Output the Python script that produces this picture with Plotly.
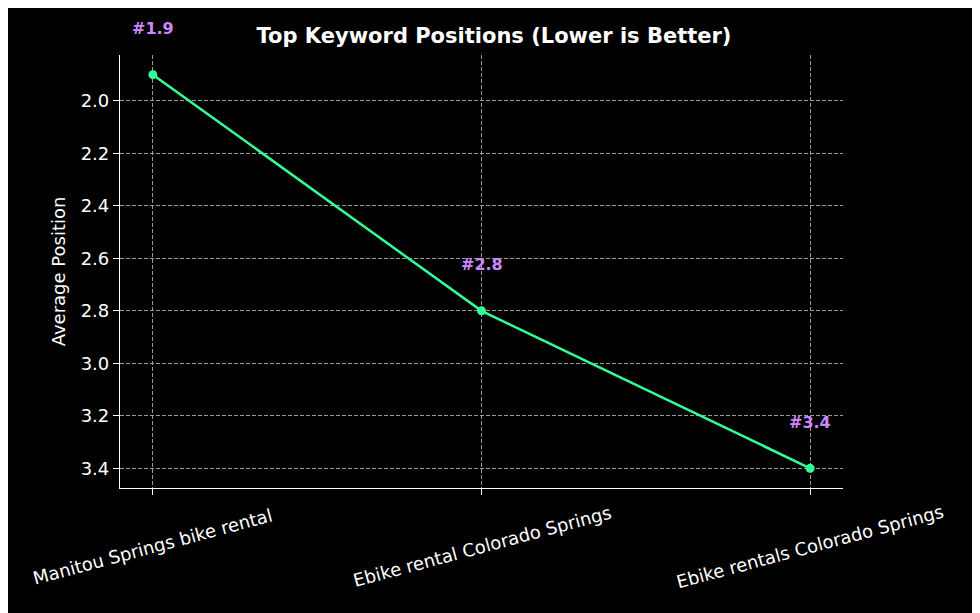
import plotly.graph_objects as go

keywords = ["Manitou Springs bike rental", "Ebike rental Colorado Springs", "Ebike rentals Colorado Springs"]
positions = [1.9, 2.8, 3.4]
y_ticks = [2.0, 2.2, 2.4, 2.6, 2.8, 3.0, 3.2, 3.4]

idx = list(range(len(keywords)))
font = "DejaVu Sans"

fig = go.Figure()
fig.add_trace(go.Scatter(
    x=idx, y=positions, mode="lines+markers",
    line=dict(color="#33ff99", width=2.5),
    marker=dict(color="#33ff99", size=9),
    hoverinfo="skip",
))

for i, (k, p) in enumerate(zip(keywords, positions)):
    fig.add_annotation(x=i, y=p, text=f"<b>#{p}</b>", showarrow=False, yshift=46,
                       font=dict(color="#cc88ff", size=16, family=font))
    fig.add_annotation(x=i, y=3.475, text=k, showarrow=False, textangle=-15,
                       yshift=-58, font=dict(color="white", size=18, family=font))

grid = dict(showgrid=True, gridcolor="#9a9a9a", griddash="4px,2px", gridwidth=0.8)
fig.update_xaxes(range=[-0.1, 2.1], tickvals=idx, showticklabels=False,
                 ticks="outside", ticklen=6, tickcolor="white",
                 showline=True, linecolor="white", linewidth=1.2, zeroline=False, **grid)
fig.update_yaxes(range=[3.475, 1.825], tickvals=y_ticks,
                 ticktext=[f"{v:.1f}" for v in y_ticks],
                 ticks="outside", ticklen=6, tickcolor="white",
                 tickfont=dict(color="white", size=18, family=font),
                 title=dict(text="Average Position", font=dict(color="white", size=18, family=font), standoff=10),
                 showline=True, linecolor="white", linewidth=1.2, zeroline=False, **grid)
fig.update_layout(
    width=972, height=605,
    paper_bgcolor="black", plot_bgcolor="black",
    margin=dict(l=112, r=137, t=47, b=125),
    showlegend=False,
    title=dict(text="<b>Top Keyword Positions (Lower is Better)</b>", x=0.5, xanchor="center",
               y=0.955, yanchor="middle", font=dict(color="white", size=21, family=font)),
)
fig.write_html("out.html")
